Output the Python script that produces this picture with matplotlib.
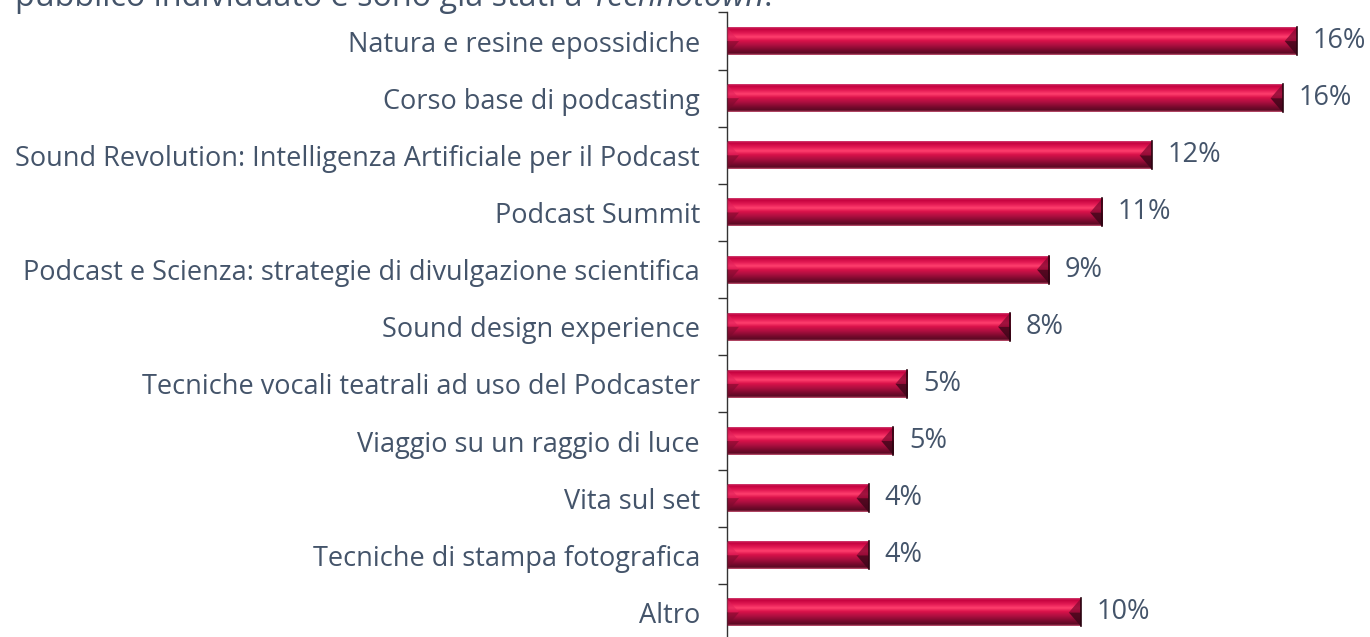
import numpy as np
import matplotlib.pyplot as plt
from matplotlib.colors import LinearSegmentedColormap
from matplotlib.patches import Polygon

# dati (percentuali)
categorie = [
    "Natura e resine epossidiche",
    "Corso base di podcasting",
    "Sound Revolution: Intelligenza Artificiale per il Podcast",
    "Podcast Summit",
    "Podcast e Scienza: strategie di divulgazione scientifica",
    "Sound design experience",
    "Tecniche vocali teatrali ad uso del Podcaster",
    "Viaggio su un raggio di luce",
    "Vita sul set",
    "Tecniche di stampa fotografica",
    "Altro",
]
valori = [16.1, 15.7, 12.0, 10.6, 9.1, 8.0, 5.1, 4.7, 4.0, 4.0, 10.0]
etichette = ["16%", "16%", "12%", "11%", "9%", "8%", "5%", "5%", "4%", "4%", "10%"]

testo = "#44546A"
plt.rcParams['font.family'] = ['Open Sans', 'DejaVu Sans']
fs = 19.5

# gradiente verticale della barra (dall'alto in basso)
grad = LinearSegmentedColormap.from_list("barra", [
    (0.00, "#D04070"),
    (0.06, "#C4003E"),
    (0.22, "#E41C55"),
    (0.35, "#FF3F6E"),
    (0.48, "#DA124A"),
    (0.65, "#AC0F40"),
    (0.85, "#72092B"),
    (0.94, "#5C0A23"),
    (1.00, "#C25272"),
])
g = np.linspace(0, 1, 64).reshape(-1, 1)

fig = plt.figure(figsize=(13.7, 6.37), dpi=100)
ax = fig.add_axes([727 / 1370, -4 / 637, 637 / 1370, 628.5 / 637])

h = 0.49
bx = 0.34  # profondita' della smussatura (in %)
for i, v in enumerate(valori):
    top, bot = i - h / 2, i + h / 2
    ax.imshow(g, cmap=grad, aspect='auto', extent=(0, v, bot, top),
              interpolation='bilinear', zorder=2)
    # smussatura sinistra
    ax.add_patch(Polygon([(0, top), (bx, i), (0, i)], closed=True,
                         fc="#E0205A", alpha=0.55, lw=0, zorder=3))
    ax.add_patch(Polygon([(0, i), (bx, i), (0, bot)], closed=True,
                         fc="#7A0A2C", alpha=0.55, lw=0, zorder=3))
    # smussatura destra
    ax.add_patch(Polygon([(v, top), (v - bx, i), (v, i)], closed=True,
                         fc="#8A0A34", alpha=0.8, lw=0, zorder=3))
    ax.add_patch(Polygon([(v, i), (v - bx, i), (v, bot)], closed=True,
                         fc="#40061A", alpha=0.85, lw=0, zorder=3))
    ax.plot([v, v], [top, bot], color="#2A0410", lw=1.2, zorder=4)
    ax.text(v + 0.45, i, etichette[i], va='center', ha='left',
            fontsize=fs, color=testo)

ax.set_xlim(0, 18)
ax.set_ylim(len(valori) - 0.5, -0.5)
ax.set_yticks(range(len(valori)))
ax.set_yticklabels(categorie, fontsize=fs, color=testo)
ax.set_yticks(np.arange(-0.5, len(valori), 1), minor=True)
ax.tick_params(axis='y', which='major', length=0, pad=19.5)
ax.tick_params(axis='y', which='minor', length=6.5, width=1, color="#333333")
ax.set_xticks([])
for s in ['top', 'right', 'bottom']:
    ax.spines[s].set_visible(False)
ax.spines['left'].set_color("#333333")
ax.spines['left'].set_linewidth(1)

# titolo tagliato in alto
yb = 1 - 6 / 637
t0 = fig.text(15 / 1370, yb, "pubblico individuato e sono già stati a ",
              fontsize=23.3, color=testo, va='baseline', ha='left')
fig.canvas.draw()
bb = t0.get_window_extent()
t1 = fig.text(bb.x1 / 1370, yb, "Technotown", fontsize=23.3, color=testo,
              va='baseline', ha='left', style='italic')
bb1 = t1.get_window_extent()
fig.text(bb1.x1 / 1370, yb, ".", fontsize=23.3, color=testo,
         va='baseline', ha='left')

fig.savefig("out.png", dpi=100)
